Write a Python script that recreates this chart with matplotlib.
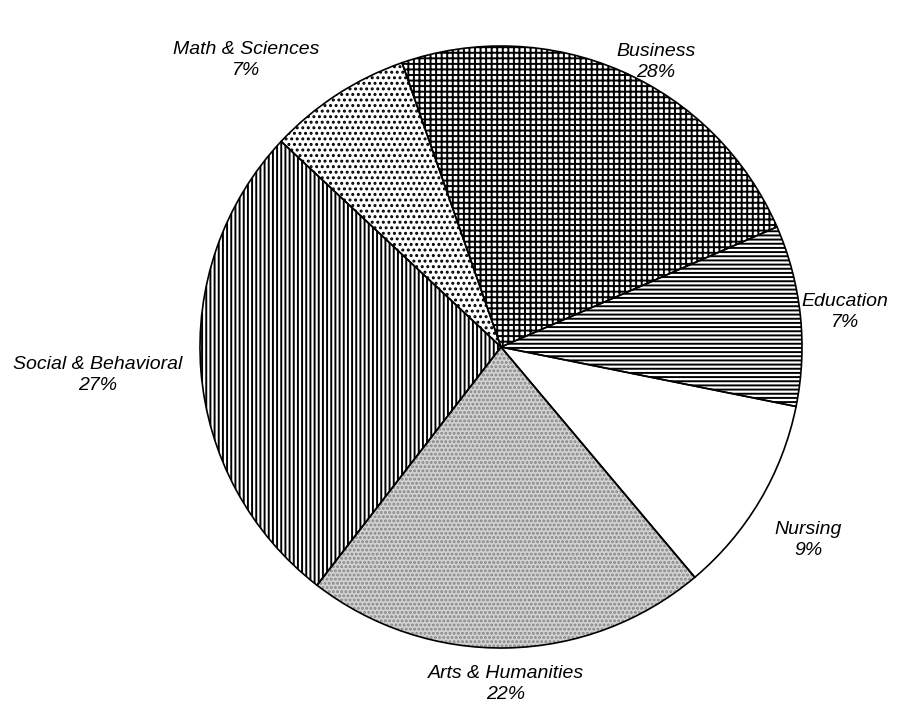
import numpy as np
import matplotlib.pyplot as plt

plt.switch_backend('Agg')
plt.rcParams['font.family'] = ['Liberation Sans', 'DejaVu Sans']
plt.rcParams['hatch.linewidth'] = 1.4

# slices, clockwise from the top-left edge of Business
fields = ['Business', 'Education', 'Nursing', 'Arts & Humanities',
          'Social & Behavioral', 'Math & Sciences']
pct_labels = ['28%', '7%', '9%', '22%', '27%', '7%']
# share of the circle as drawn in the picture (degrees / 3.6)
shares = [23.8, 9.7, 10.7, 21.6, 26.5, 7.7]

hatches = ['+++', '----', '', '....', '||||', '...']
faces = ['white', 'white', 'white', '#d2d2d2', 'white', 'white']
hatch_colors = ['black', 'black', 'black', '#858585', 'black', 'black']

# label centres in pixels (x, y from top)
label_pos = [(656, 62), (845, 312), (808, 540), (506, 684),
             (98, 375), (246, 60)]

W, H = 907, 711
fig = plt.figure(figsize=[W / 100, H / 100], dpi=100)
ax = fig.add_axes([0, 0, 1, 1])

# filled / hatched wedges (hatch takes the edge colour)
wedges, _ = ax.pie(shares, startangle=109.2, counterclock=False,
                   center=(501, H - 347), radius=301, frame=True,
                   wedgeprops=dict(linewidth=0))
for w, ht, fc, hc in zip(wedges, hatches, faces, hatch_colors):
    w.set_facecolor(fc)
    w.set_edgecolor(hc)
    w.set_hatch(ht)

# black outlines on top
ax.pie(shares, startangle=109.2, counterclock=False,
       center=(501, H - 347), radius=301, frame=True,
       wedgeprops=dict(facecolor='none', edgecolor='black', linewidth=1.2))

ax.set_xlim(0, W)
ax.set_ylim(0, H)
ax.set_aspect('equal')
ax.axis('off')

for name, pct, (x, y) in zip(fields, pct_labels, label_pos):
    ax.text(x, H - y, name + '\n' + pct, ha='center', va='center',
            fontsize=14, style='italic', linespacing=1.25)

plt.savefig('out.png', dpi=100)
plt.close()
